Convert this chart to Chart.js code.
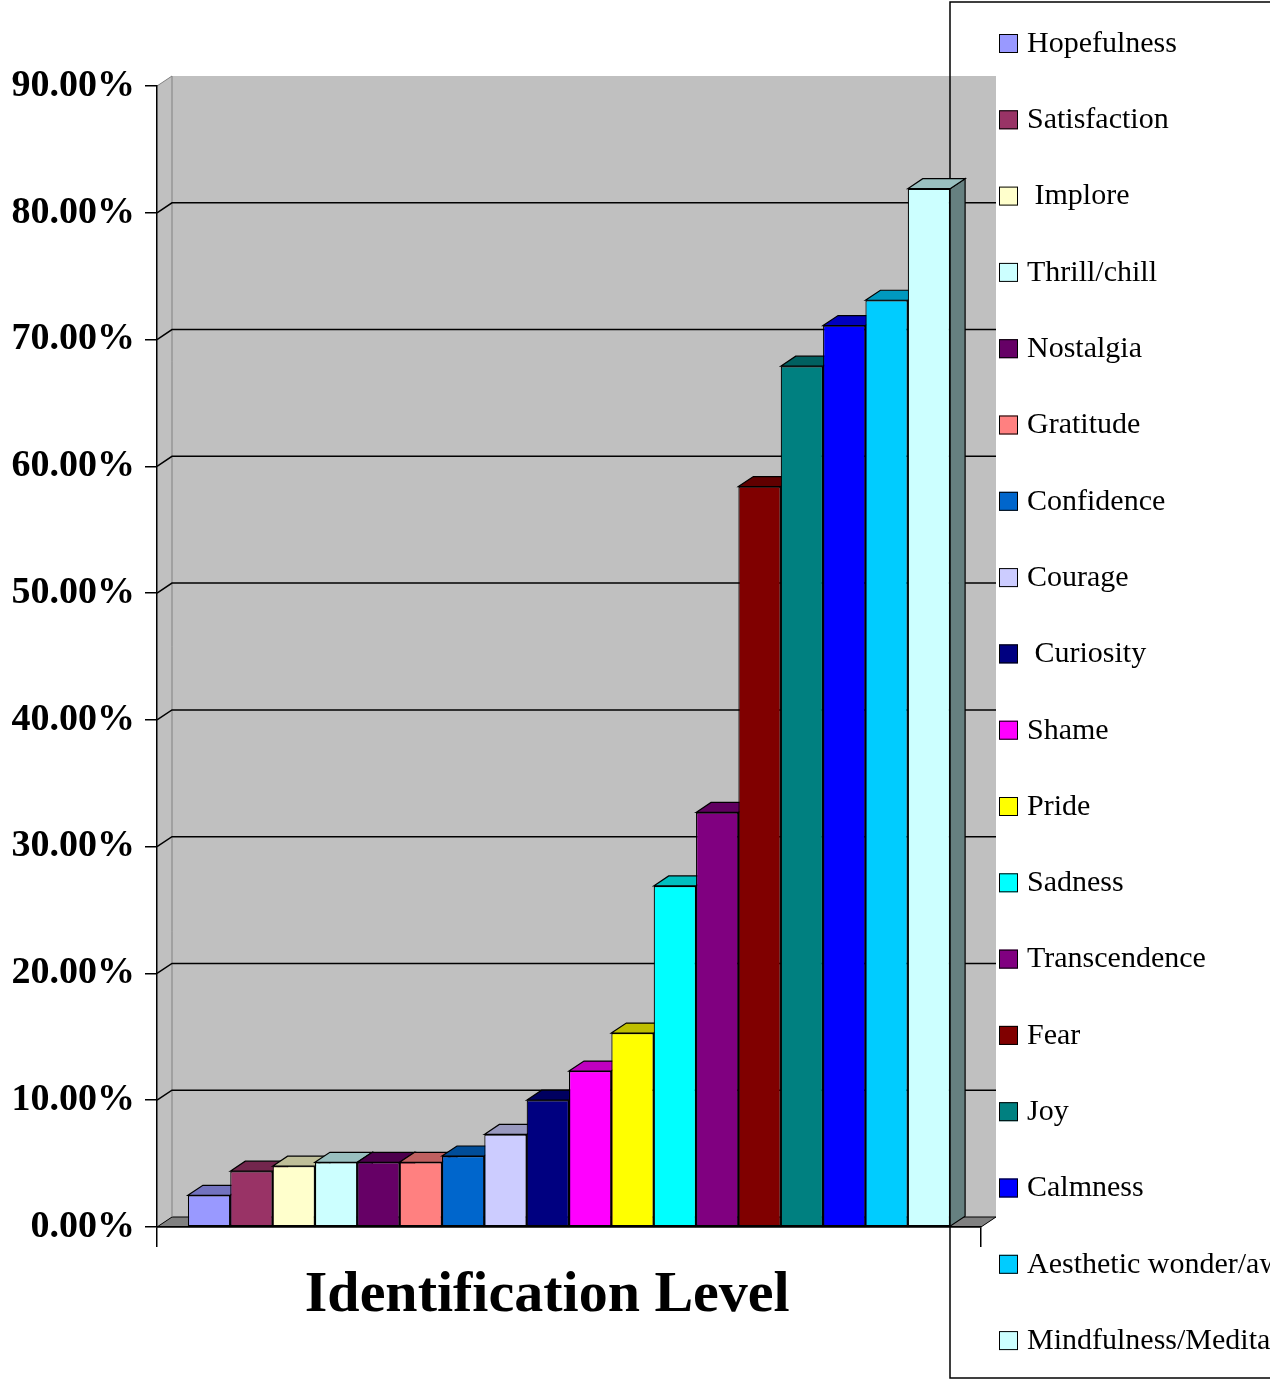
<!DOCTYPE html>
<html>
<head>
<meta charset="utf-8">
<title>Identification Level</title>
<script src="https://cdn.jsdelivr.net/npm/chart.js@4.4.1/dist/chart.umd.min.js"></script>
<style>
  body { margin: 0; background: #fff; }
  canvas { display: block; }
</style>
</head>
<body>
<canvas id="chart-identification" width="1270" height="1383"></canvas>
<script>
const categories = ['Identification Level'];
const emotions = [
  'Hopefulness', 'Satisfaction', ' Implore', 'Thrill/chill', 'Nostalgia', 'Gratitude',
  'Confidence', 'Courage', ' Curiosity', 'Shame', 'Pride', 'Sadness',
  'Transcendence', 'Fear', 'Joy', 'Calmness', 'Aesthetic wonder/awe', 'Mindfulness/Meditation'
];
const percentages = [2.5, 4.4, 4.8, 5.1, 5.1, 5.1, 5.6, 7.3, 10.0, 12.3, 15.3, 26.9, 32.7, 58.4, 67.9, 71.1, 73.1, 81.9];
const colors = [
  '#9999FF', '#993366', '#FFFFCC', '#CCFFFF', '#660066', '#FF8080',
  '#0066CC', '#CCCCFF', '#000080', '#FF00FF', '#FFFF00', '#00FFFF',
  '#800080', '#800000', '#008080', '#0000FF', '#00CCFF', '#CCFFFF'
];
const yTicks = [0, 10, 20, 30, 40, 50, 60, 70, 80, 90];

const serif = '"Liberation Serif", "Times New Roman", serif';
// 3d depth offset
const DX = 15, DY = -10;

function shade(hex, f) {
  const n = parseInt(hex.slice(1), 16);
  const r = Math.round(((n >> 16) & 255) * f);
  const g = Math.round(((n >> 8) & 255) * f);
  const b = Math.round((n & 255) * f);
  return 'rgb(' + r + ',' + g + ',' + b + ')';
}

function poly(ctx, pts, fill, stroke) {
  ctx.beginPath();
  ctx.moveTo(pts[0][0], pts[0][1]);
  for (let i = 1; i < pts.length; i++) ctx.lineTo(pts[i][0], pts[i][1]);
  ctx.closePath();
  if (fill) { ctx.fillStyle = fill; ctx.fill(); }
  if (stroke) { ctx.strokeStyle = stroke; ctx.stroke(); }
}

const wallPlugin = {
  id: 'wall',
  beforeDraw(chart) {
    const { ctx, chartArea: a, scales: { y } } = chart;
    const L = a.left, R = a.right, T = a.top, B = a.bottom;
    ctx.save();
    ctx.lineWidth = 1;
    // side + back wall
    poly(ctx, [[L, T], [L + DX, T + DY], [R + DX, T + DY], [R + DX, B + DY], [R, B], [L, B]], '#C0C0C0');
    // floor
    poly(ctx, [[L, B], [L + DX, B + DY], [R + DX, B + DY], [R, B]], '#808080', '#000');
    ctx.strokeStyle = '#808080';
    ctx.beginPath();
    ctx.moveTo(L, T); ctx.lineTo(L + DX, T + DY); ctx.lineTo(L + DX, B + DY);
    ctx.stroke();
    // gridlines on the back wall
    ctx.strokeStyle = '#000';
    ctx.lineWidth = 1.5;
    yTicks.forEach(v => {
      if (v <= 0 || v >= 90) return;
      const py = y.getPixelForValue(v);
      ctx.beginPath();
      ctx.moveTo(L, py);
      ctx.lineTo(L + DX, py + DY);
      ctx.lineTo(R + DX, py + DY);
      ctx.stroke();
    });
    // legend frame
    ctx.lineWidth = 1.5;
    ctx.strokeRect(950, 2, 400, 1376);
    ctx.restore();
  },
  beforeDatasetsDraw(chart) {
    const ctx = chart.ctx;
    ctx.save();
    ctx.lineWidth = 1.2;
    chart.data.datasets.forEach((ds, i) => {
      const bar = chart.getDatasetMeta(i).data[0];
      const { x, y, base, width } = bar.getProps(['x', 'y', 'base', 'width'], true);
      const l = x - width / 2, r = x + width / 2;
      poly(ctx, [[r, y], [r + DX, y + DY], [r + DX, base + DY], [r, base]], shade(ds.backgroundColor, 0.5), '#000');
      poly(ctx, [[l, y], [l + DX, y + DY], [r + DX, y + DY], [r, y]], shade(ds.backgroundColor, 0.75), '#000');
    });
    ctx.restore();
  },
  afterDraw(chart) {
    const ctx = chart.ctx;
    ctx.save();
    ctx.font = '30px ' + serif;
    ctx.textBaseline = 'middle';
    ctx.lineWidth = 1;
    chart.data.datasets.forEach((ds, i) => {
      const cy = 43 + i * 76.3;
      ctx.fillStyle = ds.backgroundColor;
      ctx.fillRect(999, cy - 9, 19, 19);
      ctx.strokeStyle = '#000';
      ctx.strokeRect(999.5, cy - 8.5, 18, 18);
      ctx.fillStyle = '#000';
      ctx.fillText(ds.label, 1027, cy + 1);
    });
    ctx.restore();
  }
};

new Chart(document.getElementById('chart-identification'), {
  type: 'bar',
  data: {
    labels: categories,
    datasets: emotions.map((name, i) => ({
      label: name,
      data: [percentages[i]],
      backgroundColor: colors[i],
      borderColor: '#000',
      borderWidth: 1.2,
      borderSkipped: false
    }))
  },
  options: {
    responsive: false,
    animation: false,
    events: [],
    layout: { padding: { left: 12, top: 86, right: 289, bottom: 0 } },
    datasets: { bar: { categoryPercentage: 0.925, barPercentage: 1 } },
    plugins: {
      legend: { display: false },
      tooltip: { enabled: false }
    },
    scales: {
      x: {
        ticks: { display: false },
        grid: { drawOnChartArea: false, tickLength: 20, color: '#000', lineWidth: 1.5 },
        border: { color: '#000', width: 1.5 },
        title: {
          display: true,
          // trailing en space nudges the centred title a little to the left, as in the original
          text: categories[0] + '\u2002 ',
          color: '#000',
          font: { family: serif, size: 58, weight: 'bold' },
          padding: { top: 0, bottom: 52 }
        },
        afterFit: s => { s.height = 156; }
      },
      y: {
        min: 0,
        max: 90,
        afterBuildTicks: s => { s.ticks = yTicks.map(v => ({ value: v })); },
        ticks: {
          callback: v => v.toFixed(2) + '%',
          color: '#000',
          padding: 10,
          font: { family: serif, size: 38, weight: 'bold' }
        },
        grid: { drawOnChartArea: false, tickLength: 12, color: '#000', lineWidth: 1.5 },
        border: { color: '#000', width: 1.5 },
        afterFit: s => { s.width = 145; }
      }
    }
  },
  plugins: [wallPlugin]
});
</script>
</body>
</html>
